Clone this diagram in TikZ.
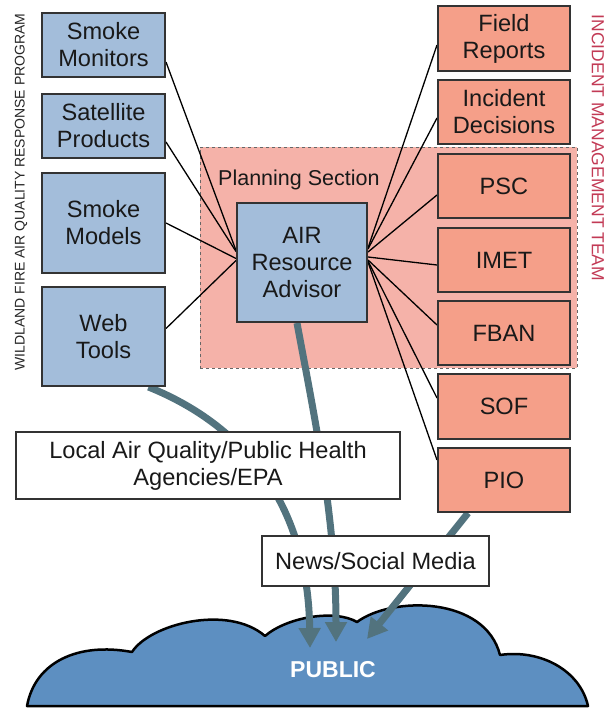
\documentclass[tikz,border=0pt]{standalone}
\usepackage{fontspec}
\setmainfont{Liberation Sans}
\usetikzlibrary{arrows.meta,calc}
\definecolor{boxblue}{HTML}{A3BDDA}
\definecolor{boxred}{HTML}{F59F89}
\definecolor{planfill}{HTML}{F5B2A9}
\definecolor{cloudblue}{HTML}{5D8FC1}
\definecolor{arrowcol}{HTML}{52737E}
\definecolor{imtred}{HTML}{C23A55}
\definecolor{edgegray}{HTML}{333333}
\pgfdeclarelayer{bgzero}
\pgfdeclarelayer{bgone}
\pgfsetlayers{bgzero,bgone,main}
\begin{document}
\begin{tikzpicture}[x=1pt,y=-1pt,
  box/.style={draw=edgegray, line width=2pt, inner sep=0pt, align=center,
    font=\fontsize{23.6}{27}\selectfont, text=black!90},
  bluebox/.style={box, fill=boxblue},
  redbox/.style={box, fill=boxred, minimum width=132pt, minimum height=64pt},
  whitebox/.style={box, fill=white},
  link/.style={line width=1.3pt, black},
  flow/.style={line width=7pt, draw=arrowcol, -{Triangle[length=20pt,width=21pt]}},
]
\useasboundingbox (0,0) rectangle (613,708);

% left boxes
\node[bluebox, minimum width=123pt, minimum height=64pt] (sm) at (103.5,45) {Smoke\\Monitors};
\node[bluebox, minimum width=123pt, minimum height=64pt] (sp) at (103.5,126) {Satellite\\Products};
\node[bluebox, minimum width=123pt, minimum height=100pt] (smod) at (103.5,223) {Smoke\\Models};
\node[bluebox, minimum width=123pt, minimum height=99pt] (wt) at (103.5,336.5) {Web\\Tools};

% planning section (background layer)
\begin{pgfonlayer}{bgzero}
\node[draw=gray!80!black, dashed, line width=0.8pt, fill=planfill, minimum width=377pt, minimum height=221pt, inner sep=0pt] (plan) at (388.5,257.5) {};
\end{pgfonlayer}
\node[anchor=base west, inner sep=0pt, font=\fontsize{21.5}{26}\selectfont, text=black!90] (plab) at (218,186) {Planning Section};

% AIR
\node[bluebox, minimum width=130pt, minimum height=119pt] (air) at (302,262.5) {AIR\\Resource\\Advisor};

% right boxes
\node[redbox, minimum height=65pt] (fr) at (504,38.5) {Field\\Reports};
\node[redbox] (id) at (504,112) {Incident\\Decisions};
\node[redbox] (psc) at (504,186) {PSC};
\node[redbox] (imet) at (504,260) {IMET};
\node[redbox] (fban) at (504,333) {FBAN};
\node[redbox, minimum height=65pt] (sof) at (504,406.5) {SOF};
\node[redbox] (pio) at (504,480) {PIO};

% lower boxes
\node[whitebox, minimum width=384pt, minimum height=67pt] (local) at (208,465.5) {Local Air Quality/Public Health\\Agencies/EPA};
\node[whitebox, minimum width=227pt, minimum height=50pt] (news) at (375.5,561) {News/Social Media};

% side labels
\node[rotate=90, inner sep=0pt, font=\fontsize{14}{16}\selectfont, text=black!85] (lprog) at (21,192) {WILDLAND FIRE AIR QUALITY RESPONSE PROGRAM};
\node[rotate=-90, inner sep=0pt, font=\fontsize{17.5}{20}\selectfont, text=imtred] (limt) at (598,148) {INCIDENT MANAGEMENT TEAM};

% cloud
\begin{pgfonlayer}{bgzero}
\path[draw=black, line width=2.5pt, fill=cloudblue, line join=round]
  (27,706) .. controls (35,662) and (78,642) .. (132,652)
  .. controls (150,624) and (228,604) .. (265,636)
  .. controls (287,617) and (335,609) .. (357,622)
  .. controls (392,596) and (485,596) .. (500,655)
  .. controls (540,649) and (580,670) .. (588,706)
  -- cycle;
\end{pgfonlayer}
\node[font=\fontsize{23}{27}\selectfont\bfseries, text=white, inner sep=0pt] (pub) at (333,670) {PUBLIC};

\coordinate (t1) at (310,648);
\coordinate (t2) at (336,642);
\coordinate (t3) at (367,639);

\begin{pgfonlayer}{bgone}
% thin links left
\draw[link] ([yshift=-17pt]sm.east) -- ([yshift=12pt]air.west);
\draw[link] ([yshift=-16pt]sp.east) -- ([yshift=11pt]air.west);
\draw[link] (smod.east) -- ([yshift=4pt]air.west);
\draw[link] ([yshift=8pt]wt.east) -- ([yshift=2pt]air.west);
% thin links right
\draw[link] ([yshift=14.5pt]air.east) -- ([yshift=-6.5pt]fr.west);
\draw[link] ([yshift=13.5pt]air.east) -- ([yshift=-6pt]id.west);
\draw[link] ([yshift=10.5pt]air.east) -- ([yshift=-9pt]psc.west);
\draw[link] ([yshift=5.5pt]air.east) -- ([yshift=-5pt]imet.west);
\draw[link] ([yshift=2.5pt]air.east) -- ([yshift=8pt]fban.west);
\draw[link] ([yshift=1.5pt]air.east) -- ([yshift=8.5pt]sof.west);
\draw[link] ([yshift=0.5pt]air.east) -- ([yshift=20pt]pio.west);
% flows
\draw[flow] ([xshift=45pt]wt.south) .. controls (250,428) and (308,510) .. (t1);
\draw[flow] ([xshift=-5pt]air.south) .. controls (315,420) and (336,520) .. (t2);
\draw[flow] ([xshift=-36pt]pio.south) -- (t3);
\end{pgfonlayer}
\end{tikzpicture}
\end{document}
